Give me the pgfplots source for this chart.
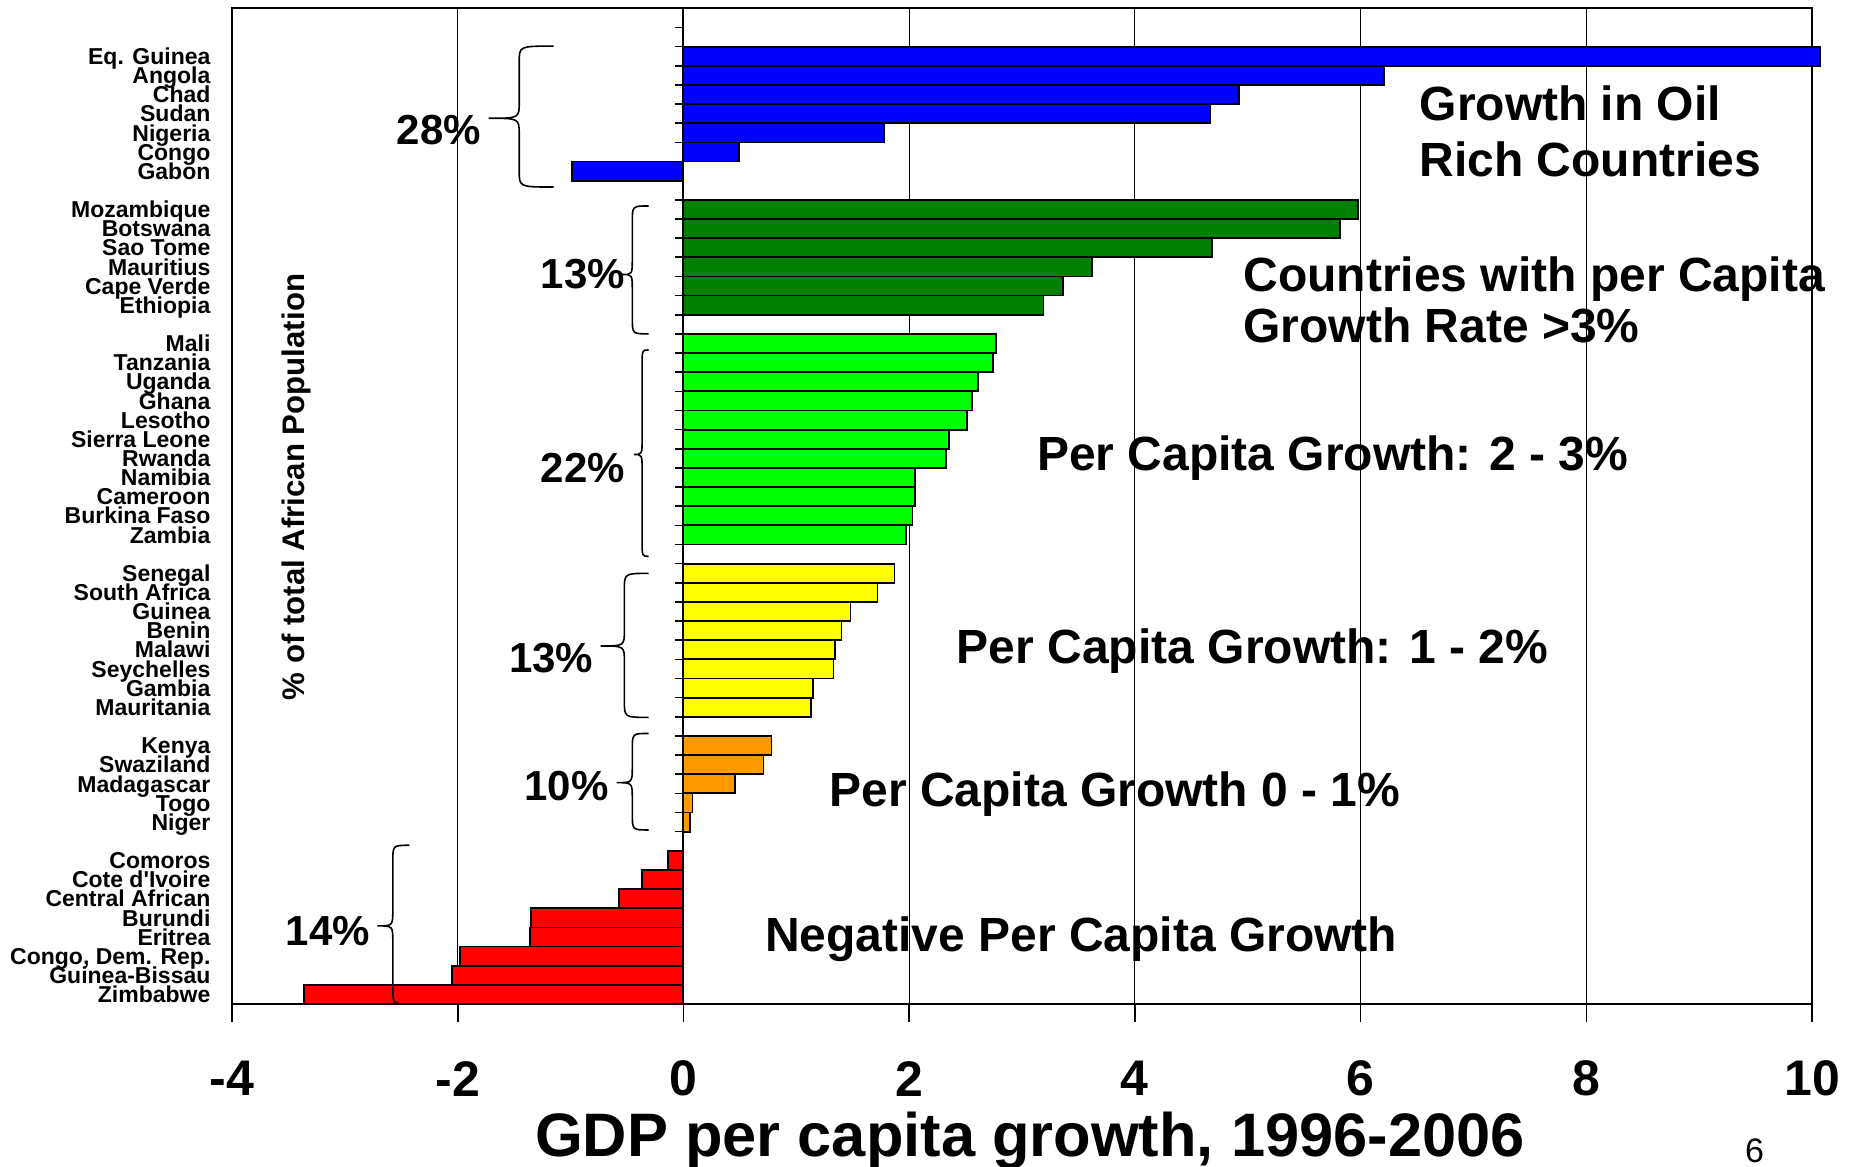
\documentclass[border=0pt]{standalone}
\usepackage{fontspec}
\setmainfont{Liberation Sans}
\usepackage{pgfplots}
\pgfplotsset{compat=1.18}

\definecolor{oilblue}{RGB}{0,0,255}
\definecolor{darkgrn}{RGB}{0,128,0}
\definecolor{lightgrn}{RGB}{0,255,0}
\definecolor{yel}{RGB}{255,255,0}
\definecolor{orng}{RGB}{255,153,0}
\definecolor{rd}{RGB}{255,0,0}

% left curly brace: end x, vertical x, tip x, top y, bottom y, tip y
\newcommand\brc[6]{%
  \draw[line width=0.8pt] (axis cs:#1,#4) .. controls (axis cs:#2,#4) .. ([yshift=-8pt]axis cs:#2,#4)
    -- ([yshift=8pt]axis cs:#2,#6) .. controls (axis cs:#2,#6) .. (axis cs:#3,#6)
    .. controls (axis cs:#2,#6) .. ([yshift=-8pt]axis cs:#2,#6)
    -- ([yshift=8pt]axis cs:#2,#5) .. controls (axis cs:#2,#5) .. (axis cs:#1,#5);}

\newcommand\capfont{\bfseries\fontsize{24}{28}\selectfont}
\newcommand\pctfont{\bfseries\fontsize{21}{24}\selectfont}

\begin{document}
\begin{tikzpicture}
\begin{axis}[
  at={(0,0)}, anchor=south west,
  scale only axis, width=790pt, height=497.8pt,
  xmin=-4, xmax=10, ymin=0.5, ymax=52.5,
  clip=false,
  xtick={-4,-2,0,2,4,6,8,10},
  xticklabels={-4,-2,0,2,4,6,8,10},
  xtick pos=lower, tick align=outside, major tick length=8.9pt,
  xtick style={black, line width=0.8pt},
  xmajorgrids, grid style={black, line width=0.6pt},
  axis line style={black, line width=0.9pt},
  xticklabel style={font=\bfseries\fontsize{25}{25}\selectfont, anchor=center, yshift=-28.4pt},
  ytick={1,2,3,4,5,6,7,8,10,11,12,13,14,16,17,18,19,20,21,22,23,25,26,27,28,29,30,31,32,33,34,35,37,38,39,40,41,42,44,45,46,47,48,49,50},
  yticklabels={Zimbabwe,Guinea-Bissau,{Congo, Dem. Rep.},Eritrea,Burundi,Central African,Cote d\textquotesingle Ivoire,Comoros,
    Niger,Togo,Madagascar,Swaziland,Kenya,
    Mauritania,Gambia,Seychelles,Malawi,Benin,Guinea,South Africa,Senegal,
    Zambia,Burkina Faso,Cameroon,Namibia,Rwanda,Sierra Leone,Lesotho,Ghana,Uganda,Tanzania,Mali,
    Ethiopia,Cape Verde,Mauritius,Sao Tome,Botswana,Mozambique,
    Gabon,Congo,Nigeria,Sudan,Chad,Angola,Eq. Guinea},
  ytick style={draw=none},
  yticklabel style={font=\bfseries\fontsize{11.5}{11.5}\selectfont, anchor=base east, inner sep=0pt, xshift=-1.7pt, yshift=-4.1pt},
]

% oil rich
\addplot[xbar, bar width=9.577pt, fill=oilblue, draw=black, line width=0.9pt] coordinates {
  (-0.99,44) (0.49,45) (1.78,46) (4.67,47) (4.92,48) (6.21,49) (10.07,50)};
% per capita growth > 3%
\addplot[xbar, bar width=9.577pt, fill=darkgrn, draw=black, line width=0.9pt] coordinates {
  (3.19,37) (3.36,38) (3.62,39) (4.68,40) (5.82,41) (5.98,42)};
% 2 - 3%
\addplot[xbar, bar width=9.577pt, fill=lightgrn, draw=black, line width=0.9pt] coordinates {
  (1.97,25) (2.03,26) (2.05,27) (2.05,28) (2.33,29) (2.35,30) (2.51,31) (2.56,32) (2.61,33) (2.74,34) (2.77,35)};
% 1 - 2%
\addplot[xbar, bar width=9.577pt, fill=yel, draw=black, line width=0.9pt] coordinates {
  (1.13,16) (1.15,17) (1.33,18) (1.34,19) (1.40,20) (1.48,21) (1.72,22) (1.87,23)};
% 0 - 1%
\addplot[xbar, bar width=9.577pt, fill=orng, draw=black, line width=0.9pt] coordinates {
  (0.06,10) (0.08,11) (0.46,12) (0.71,13) (0.78,14)};
% negative
\addplot[xbar, bar width=9.577pt, fill=rd, draw=black, line width=0.9pt] coordinates {
  (-3.36,1) (-2.05,2) (-1.98,3) (-1.36,4) (-1.35,5) (-0.57,6) (-0.37,7) (-0.14,8)};

% category axis at x = 0
\draw[line width=1pt] (axis cs:0,0.5) -- (axis cs:0,52.5);
\foreach \b in {1.5,2.5,...,51.5}{%
  \edef\tmp{\noexpand\draw[line width=0.8pt] (axis cs:0,\b) -- (axis cs:-0.071,\b);}\tmp}

% braces and population shares
\brc{-1.151}{-1.455}{-1.727}{50.53}{43.17}{46.76}
\brc{-0.309}{-0.453}{-0.544}{42.18}{35.5}{38.6}
\brc{-0.309}{-0.366}{-0.44}{34.66}{23.88}{29.2}
\brc{-0.309}{-0.523}{-0.733}{22.99}{15.47}{19.2}
\brc{-0.309}{-0.453}{-0.592}{14.63}{9.59}{12.06}
\brc{-2.428}{-2.575}{-2.711}{8.79}{0.5}{4.58}
\node[font=\pctfont] at (axis cs:-2.166,46.14) {28\%};
\node[font=\pctfont] at (axis cs:-0.89,38.6) {13\%};
\node[font=\pctfont] at (axis cs:-0.89,28.5) {22\%};
\node[font=\pctfont] at (axis cs:-1.172,18.56) {13\%};
\node[font=\pctfont] at (axis cs:-1.036,11.88) {10\%};
\node[font=\pctfont] at (axis cs:-3.15,4.33) {14\%};

\node[font=\bfseries\fontsize{15.6}{16}\selectfont, rotate=90] at (axis cs:-3.433,27.5) {\% of total African Population};

% group captions
\node[font=\capfont, anchor=base west, inner sep=0pt] at (axis cs:6.52,46.67) {Growth in Oil};
\node[font=\capfont, anchor=base west, inner sep=0pt] at (axis cs:6.52,43.7) {Rich Countries};
\node[font=\capfont, anchor=base west, inner sep=0pt] at (axis cs:4.96,37.73) {Countries with per Capita};
\node[font=\capfont, anchor=base west, inner sep=0pt] at (axis cs:4.96,35.04) {Growth Rate >3\%};
\node[font=\capfont, anchor=base west, inner sep=0pt] at (axis cs:3.13,28.36) {Per Capita Growth: 2 - 3\%};
\node[font=\capfont, anchor=base west, inner sep=0pt] at (axis cs:2.42,18.28) {Per Capita Growth: 1 - 2\%};
\node[font=\capfont, anchor=base west, inner sep=0pt] at (axis cs:1.29,10.8) {Per Capita Growth 0 - 1\%};
\node[font=\capfont, anchor=base west, inner sep=0pt] at (axis cs:0.72,3.25) {Negative Per Capita Growth};

% axis title and slide number
\node[font=\bfseries\fontsize{30.7}{32}\selectfont, anchor=base, inner sep=0pt] at (axis cs:3.07,-7.48) {GDP per capita growth, 1996-2006};
\node[font=\fontsize{17}{17}\selectfont, anchor=base, inner sep=0pt] at (axis cs:9.49,-7.76) {6};
\end{axis}
\pgfresetboundingbox
\useasboundingbox (-116pt,-81.1pt) rectangle (812pt,502pt);
\end{tikzpicture}
\end{document}
